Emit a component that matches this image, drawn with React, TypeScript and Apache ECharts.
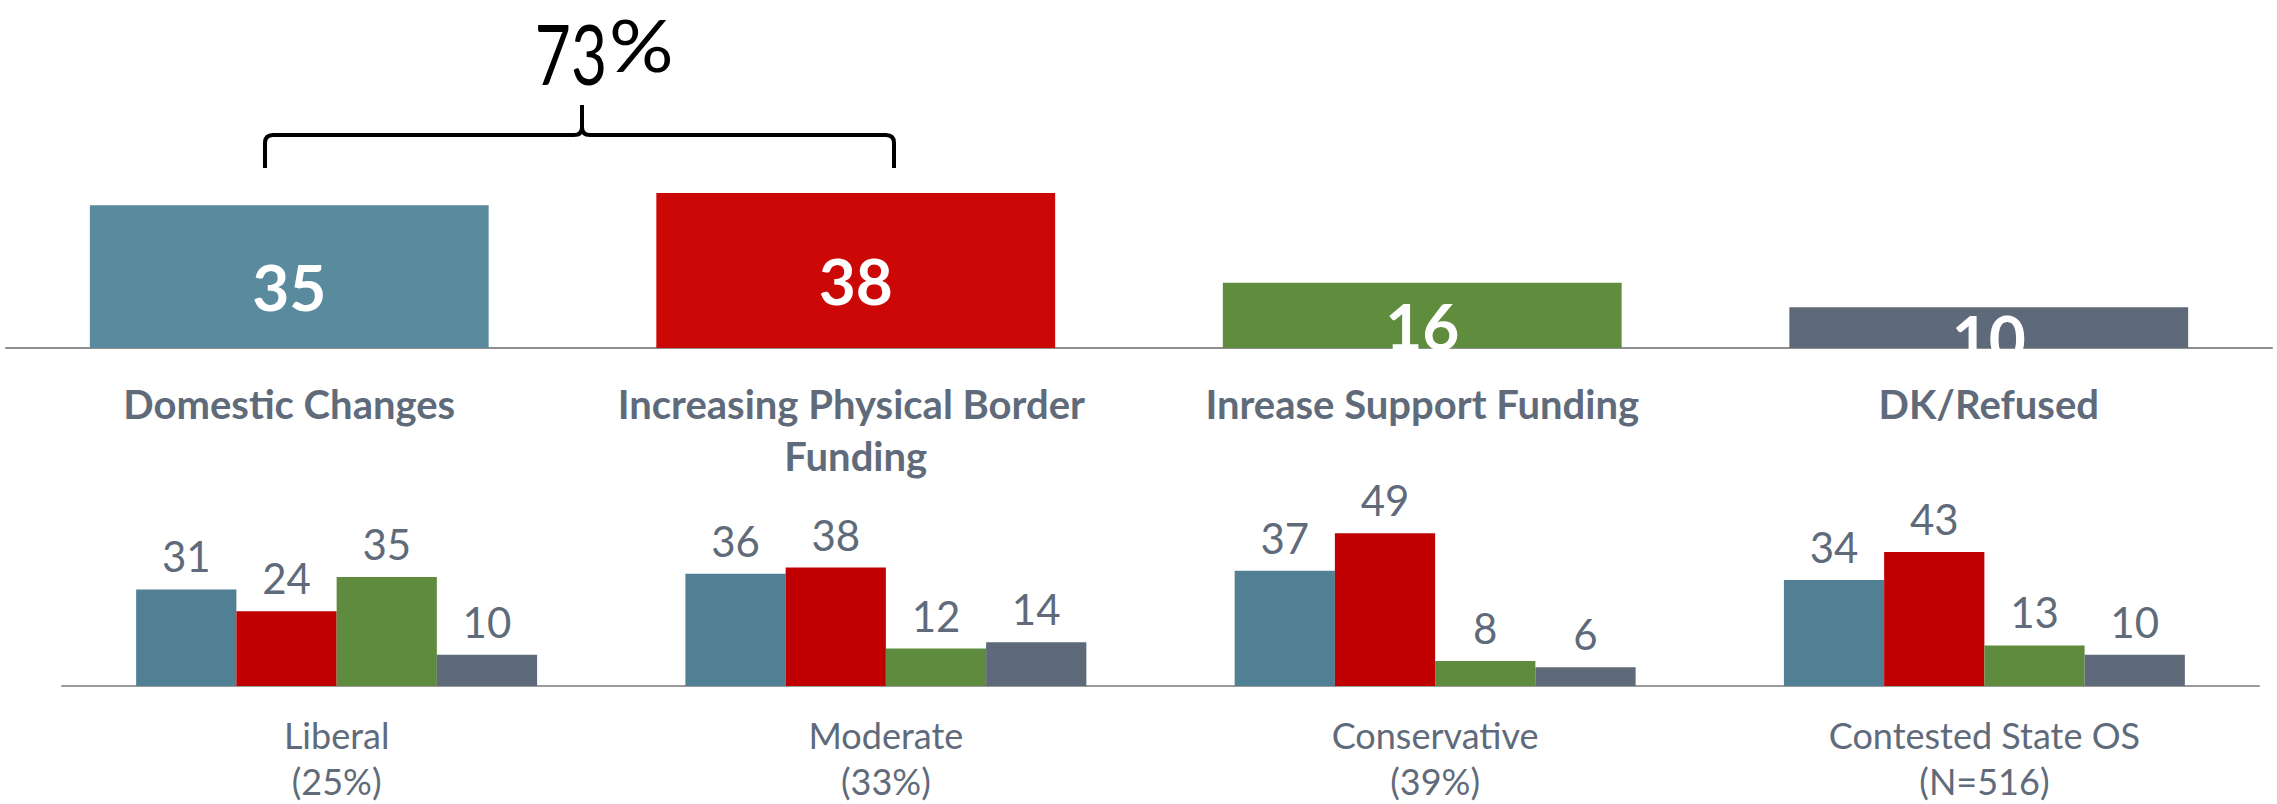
import React, { useEffect, useRef } from "react";
import * as echarts from "echarts";

// ---- data ----
const topCategories = [
  "Domestic Changes",
  "Increasing Physical Border Funding",
  "Inrease Support Funding",
  "DK/Refused",
];
const topValues = [35, 38, 16, 10];

const groupNames = ["Liberal", "Moderate", "Conservative", "Contested State OS"];
const groupSubs = ["(25%)", "(33%)", "(39%)", "(N=516)"];
const domesticValues = [31, 36, 37, 34];
const borderValues = [24, 38, 49, 43];
const supportValues = [35, 12, 8, 13];
const dkValues = [10, 14, 6, 10];

const bracketTotal = topValues[0] + topValues[1];

// ---- styles ----
const FONT = 'Lato, "Open Sans", sans-serif';
const TEXT_GREY = "#5f6b7a";
const topColors = ["#5a8a9e", "#cc0806", "#5f8c3d", "#5e6a79"];
const bottomColors = ["#517f93", "#c00000", "#5e8b3d", "#5e6a79"];

let braceRegistered = false;
function registerBrace() {
  if (braceRegistered) return;
  const d =
    "M265,168 L265,143 Q265,135 273,135 L574,135 Q582,135 582,127 L582,105 " +
    "M582,127 Q582,135 590,135 L886,135 Q894,135 894,143 L894,168";
  echarts.graphic.registerShape("brace", echarts.graphic.extendPath(d, {}));
  braceRegistered = true;
}

export default function App() {
  const ref = useRef<HTMLDivElement>(null);

  useEffect(() => {
    if (!ref.current) return;
    registerBrace();
    const chart = echarts.init(ref.current, undefined, { renderer: "svg" });

    const bottomSeries = [domesticValues, borderValues, supportValues, dkValues].map(
      (vals, i) => ({
        type: "bar",
        xAxisIndex: 1,
        yAxisIndex: 1,
        data: vals,
        barGap: "0%",
        barCategoryGap: "27%",
        itemStyle: { color: bottomColors[i] },
        label: {
          show: true,
          position: "top",
          distance: 12,
          color: TEXT_GREY,
          fontSize: 42,
          fontFamily: FONT,
        },
      })
    );

    chart.setOption({
      animation: false,
      backgroundColor: "#ffffff",
      grid: [
        { left: 6, width: 2266, top: 348 - 45 * 4.08, height: 45 * 4.08 },
        { left: 62, width: 2197, top: 691 - 60 * 3.2, height: 60 * 3.2 },
      ],
      xAxis: [
        {
          type: "category",
          gridIndex: 0,
          data: topCategories,
          axisTick: { show: false },
          axisLine: { lineStyle: { color: "#8f8f8f", width: 2 } },
          axisLabel: {
            interval: 0,
            margin: 30,
            fontSize: 40,
            fontWeight: "bold",
            fontFamily: FONT,
            color: TEXT_GREY,
            lineHeight: 52,
            width: 520,
            overflow: "break",
          },
        },
        {
          type: "category",
          gridIndex: 1,
          data: groupNames.map((n, i) => n + "\n" + groupSubs[i]),
          axisTick: { show: false },
          axisLine: { lineStyle: { color: "#9a9a9a", width: 2 } },
          axisLabel: {
            interval: 0,
            margin: 26,
            fontSize: 36,
            fontFamily: FONT,
            color: TEXT_GREY,
            lineHeight: 46,
          },
        },
      ],
      yAxis: [
        { type: "value", gridIndex: 0, min: 0, max: 45, show: false },
        { type: "value", gridIndex: 1, min: 0, max: 60, show: false },
      ],
      series: [
        {
          type: "bar",
          xAxisIndex: 0,
          yAxisIndex: 0,
          barCategoryGap: "29.6%",
          data: topValues.map((v, i) => ({ value: v, itemStyle: { color: topColors[i] } })),
          label: {
            show: true,
            position: "inside",
            offset: [0, 10],
            color: "#ffffff",
            fontSize: 64,
            fontWeight: "bold",
            fontFamily: FONT,
          },
        },
        ...bottomSeries,
      ],
      graphic: [
        {
          type: "brace",
          x: 0,
          y: 0,
          style: { stroke: "#000000", lineWidth: 4, fill: "none" },
        },
        {
          type: "text",
          x: 607,
          y: 53,
          scaleX: 0.75,
          style: {
            text: String(bracketTotal),
            fontSize: 83,
            lineHeight: 70,
            fontFamily: FONT,
            fill: "#000000",
            textAlign: "right",
            textVerticalAlign: "middle",
          },
        },
        {
          type: "text",
          x: 609,
          y: 44,
          scaleX: 1.12,
          style: {
            text: "%",
            fontSize: 72,
            lineHeight: 60,
            fontFamily: FONT,
            fill: "#000000",
            textAlign: "left",
            textVerticalAlign: "middle",
          },
        },
      ],
    });

    return () => chart.dispose();
  }, []);

  return (
    <div
      ref={ref}
      style={{ position: "fixed", left: 0, top: 0, width: 2277, height: 804, background: "#fff" }}
    />
  );
}
